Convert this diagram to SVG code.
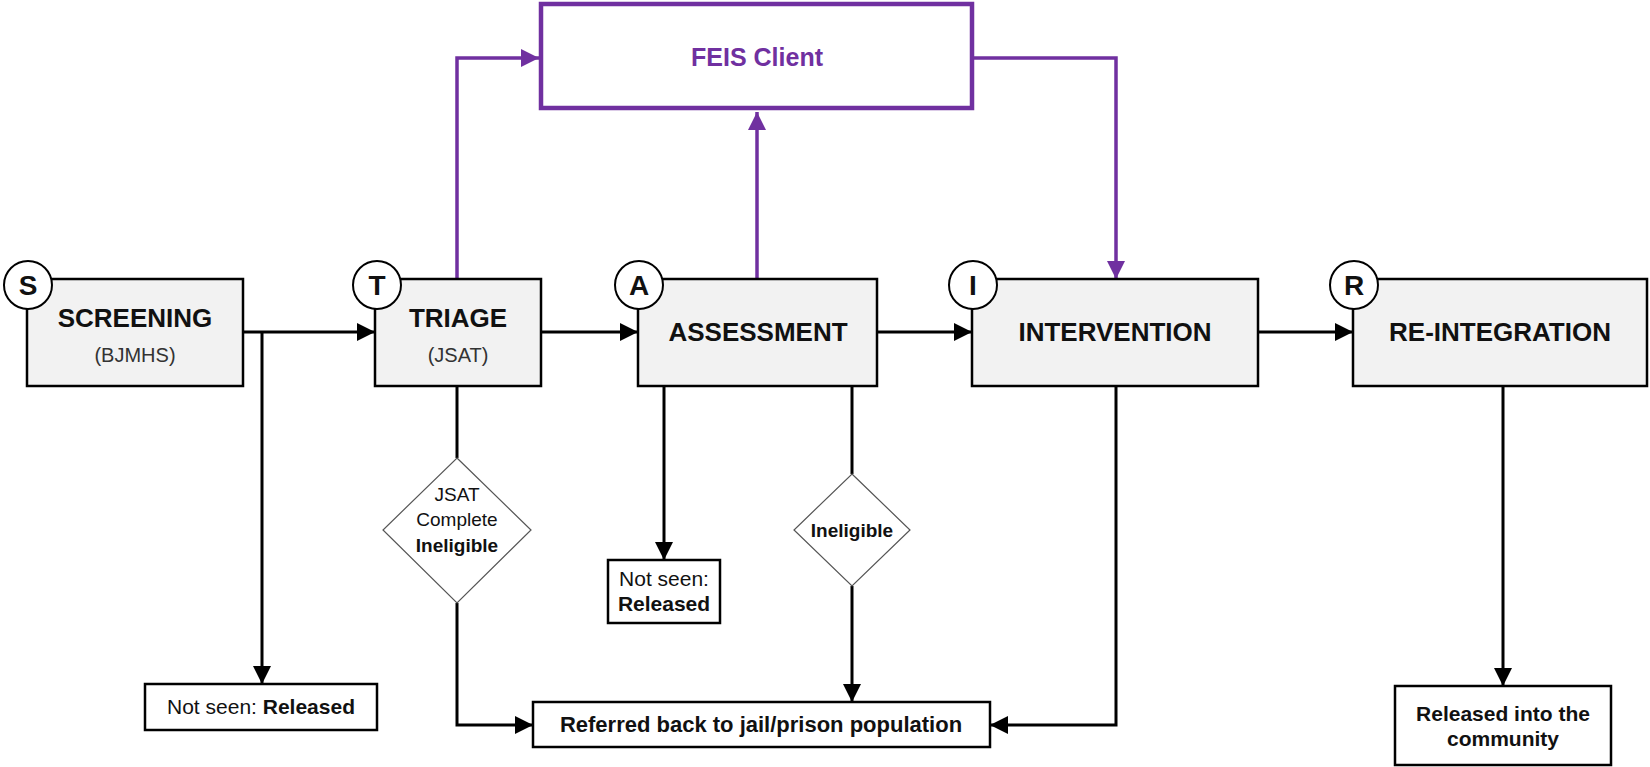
<svg xmlns="http://www.w3.org/2000/svg" width="1650" height="767" viewBox="0 0 1650 767">
  <defs>
    <marker id="ah" markerUnits="userSpaceOnUse" markerWidth="18" markerHeight="18" refX="18" refY="9" orient="auto">
      <path d="M0,0 L18,9 L0,18 z" fill="#000"/>
    </marker>
    <marker id="ahp" markerUnits="userSpaceOnUse" markerWidth="18" markerHeight="18" refX="18" refY="9" orient="auto">
      <path d="M0,0 L18,9 L0,18 z" fill="#7030a0"/>
    </marker>
  </defs>
  <style>
    text { font-family: "Liberation Sans", Arial, sans-serif; fill: #111; }
    .stage { fill: #f2f2f2; stroke: #000; stroke-width: 2.5; }
    .badge { fill: #fff; stroke: #000; stroke-width: 2; }
    .badgeT { font-size: 28px; font-weight: bold; text-anchor: middle; }
    .title { font-size: 26px; font-weight: bold; text-anchor: middle; }
    .sub { font-size: 20px; text-anchor: middle; fill: #333; }
    .outbox { fill: #fff; stroke: #000; stroke-width: 2.5; }
    .small { font-size: 21px; text-anchor: middle; }
    .b { font-weight: bold; }
    .diamond { fill: #fff; stroke: #555; stroke-width: 1.2; }
    .dtext { font-size: 19px; text-anchor: middle; }
    .conn { fill: none; stroke: #000; stroke-width: 3; }
    .pconn { fill: none; stroke: #7030a0; stroke-width: 3.5; }
  </style>

  <g id="connectors">
    <line class="conn" x1="243" y1="332" x2="375" y2="332" marker-end="url(#ah)"/>
    <line class="conn" x1="262" y1="332" x2="262" y2="684" marker-end="url(#ah)"/>
    <line class="conn" x1="541" y1="332" x2="638" y2="332" marker-end="url(#ah)"/>
    <line class="conn" x1="877" y1="332" x2="972" y2="332" marker-end="url(#ah)"/>
    <line class="conn" x1="1258" y1="332" x2="1353" y2="332" marker-end="url(#ah)"/>
    <line class="conn" x1="457" y1="386" x2="457" y2="458"/>
    <polyline class="conn" points="457,603 457,725 533,725" marker-end="url(#ah)"/>
    <line class="conn" x1="664" y1="386" x2="664" y2="560" marker-end="url(#ah)"/>
    <line class="conn" x1="852" y1="386" x2="852" y2="474"/>
    <line class="conn" x1="852" y1="586" x2="852" y2="702" marker-end="url(#ah)"/>
    <polyline class="conn" points="1116,386 1116,725 990,725" marker-end="url(#ah)"/>
    <line class="conn" x1="1503" y1="386" x2="1503" y2="686" marker-end="url(#ah)"/>
    <polyline class="pconn" points="457,279 457,58 539,58" marker-end="url(#ahp)"/>
    <line class="pconn" x1="757" y1="279" x2="757" y2="112" marker-end="url(#ahp)"/>
    <polyline class="pconn" points="974,58 1116,58 1116,279" marker-end="url(#ahp)"/>
  </g>

  <g id="feis">
    <rect x="541" y="4" width="431" height="104" fill="#fff" stroke="#7030a0" stroke-width="4.5"/>
    <text x="757" y="66" style="font-size:25px;font-weight:bold;fill:#7030a0;text-anchor:middle">FEIS Client</text>
  </g>

  <g id="screening">
    <rect class="stage" x="27" y="279" width="216" height="107"/>
    <text class="title" x="135" y="327">SCREENING</text>
    <text class="sub" x="135" y="362">(BJMHS)</text>
    <circle class="badge" cx="28" cy="285" r="24"/>
    <text class="badgeT" x="28" y="295">S</text>
  </g>

  <g id="triage">
    <rect class="stage" x="375" y="279" width="166" height="107"/>
    <text class="title" x="458" y="327">TRIAGE</text>
    <text class="sub" x="458" y="362">(JSAT)</text>
    <circle class="badge" cx="377" cy="285" r="24"/>
    <text class="badgeT" x="377" y="295">T</text>
  </g>

  <g id="assessment">
    <rect class="stage" x="638" y="279" width="239" height="107"/>
    <text class="title" x="758" y="341">ASSESSMENT</text>
    <circle class="badge" cx="639" cy="285" r="24"/>
    <text class="badgeT" x="639" y="295">A</text>
  </g>

  <g id="intervention">
    <rect class="stage" x="972" y="279" width="286" height="107"/>
    <text class="title" x="1115" y="341">INTERVENTION</text>
    <circle class="badge" cx="973" cy="285" r="24"/>
    <text class="badgeT" x="973" y="295">I</text>
  </g>

  <g id="reintegration">
    <rect class="stage" x="1353" y="279" width="294" height="107"/>
    <text class="title" x="1500" y="341">RE-INTEGRATION</text>
    <circle class="badge" cx="1354" cy="285" r="24"/>
    <text class="badgeT" x="1354" y="295">R</text>
  </g>

  <g id="not-seen-1">
    <rect class="outbox" x="145" y="684" width="232" height="46"/>
    <text class="small" x="261" y="714">Not seen: <tspan class="b">Released</tspan></text>
  </g>

  <g id="jsat-ineligible">
    <polygon class="diamond" points="457,458 531,530 457,603 383,530"/>
    <text class="dtext" x="457" y="501">JSAT</text>
    <text class="dtext" x="457" y="526">Complete</text>
    <text class="dtext b" x="457" y="552">Ineligible</text>
  </g>

  <g id="not-seen-2">
    <rect class="outbox" x="608" y="560" width="112" height="63"/>
    <text class="small" x="664" y="586">Not seen:</text>
    <text class="small b" x="664" y="611">Released</text>
  </g>

  <g id="ineligible">
    <polygon class="diamond" points="852,474 910,530 852,586 794,530"/>
    <text class="dtext b" x="852" y="537">Ineligible</text>
  </g>

  <g id="referred">
    <rect class="outbox" x="533" y="702" width="457" height="45"/>
    <text class="small b" x="761" y="732" style="font-size:22px">Referred back to jail/prison population</text>
  </g>

  <g id="released-community">
    <rect class="outbox" x="1395" y="686" width="216" height="79"/>
    <text class="small b" x="1503" y="721">Released into the</text>
    <text class="small b" x="1503" y="746">community</text>
  </g>
</svg>
